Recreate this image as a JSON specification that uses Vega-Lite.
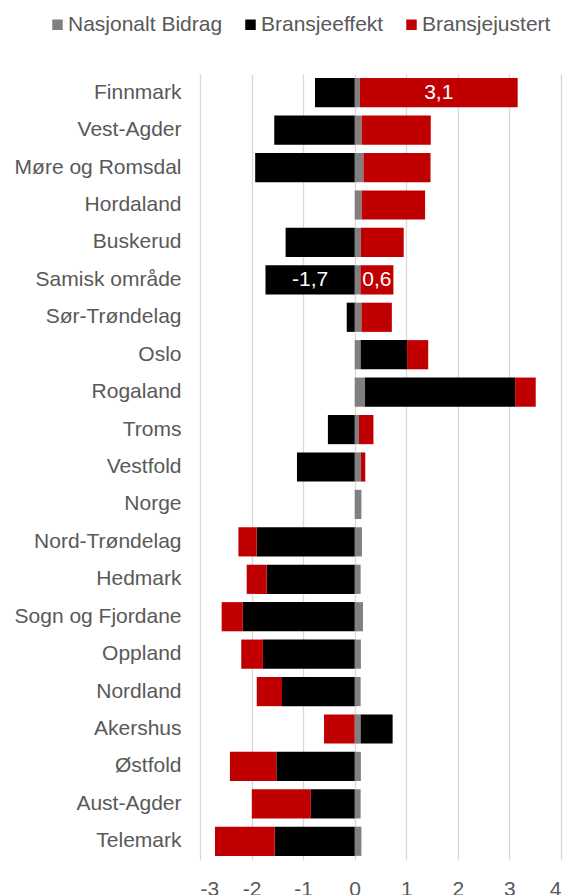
{
  "$schema": "https://vega.github.io/schema/vega-lite/v6.json",
  "autosize": "none",
  "width": 361,
  "height": 786,
  "padding": {"left": 200, "top": 74, "right": 8, "bottom": 35},
  "background": "white",
  "config": {
    "font": "Liberation Sans",
    "view": {"stroke": null},
    "axis": {"labelFont": "Liberation Sans", "labelColor": "#595959", "labelFontSize": 21}
  },
  "data": {
    "values": [
      {"region": "Finnmark", "series": "Nasjonalt Bidrag", "order": 1, "value": 0.10},
      {"region": "Finnmark", "series": "Bransjeeffekt", "order": 2, "value": -0.77},
      {"region": "Finnmark", "series": "Bransjejustert", "order": 3, "value": 3.06, "label": "3,1"},
      {"region": "Vest-Agder", "series": "Nasjonalt Bidrag", "order": 1, "value": 0.135},
      {"region": "Vest-Agder", "series": "Bransjeeffekt", "order": 2, "value": -1.56},
      {"region": "Vest-Agder", "series": "Bransjejustert", "order": 3, "value": 1.34},
      {"region": "Møre og Romsdal", "series": "Nasjonalt Bidrag", "order": 1, "value": 0.17},
      {"region": "Møre og Romsdal", "series": "Bransjeeffekt", "order": 2, "value": -1.93},
      {"region": "Møre og Romsdal", "series": "Bransjejustert", "order": 3, "value": 1.30},
      {"region": "Hordaland", "series": "Nasjonalt Bidrag", "order": 1, "value": 0.135},
      {"region": "Hordaland", "series": "Bransjeeffekt", "order": 2, "value": 0},
      {"region": "Hordaland", "series": "Bransjejustert", "order": 3, "value": 1.23},
      {"region": "Buskerud", "series": "Nasjonalt Bidrag", "order": 1, "value": 0.12},
      {"region": "Buskerud", "series": "Bransjeeffekt", "order": 2, "value": -1.34},
      {"region": "Buskerud", "series": "Bransjejustert", "order": 3, "value": 0.83},
      {"region": "Samisk område", "series": "Nasjonalt Bidrag", "order": 1, "value": 0.11},
      {"region": "Samisk område", "series": "Bransjeeffekt", "order": 2, "value": -1.73, "label": "-1,7"},
      {"region": "Samisk område", "series": "Bransjejustert", "order": 3, "value": 0.64, "label": "0,6"},
      {"region": "Sør-Trøndelag", "series": "Nasjonalt Bidrag", "order": 1, "value": 0.13},
      {"region": "Sør-Trøndelag", "series": "Bransjeeffekt", "order": 2, "value": -0.155},
      {"region": "Sør-Trøndelag", "series": "Bransjejustert", "order": 3, "value": 0.59},
      {"region": "Oslo", "series": "Nasjonalt Bidrag", "order": 1, "value": 0.115},
      {"region": "Oslo", "series": "Bransjeeffekt", "order": 2, "value": 0.90},
      {"region": "Oslo", "series": "Bransjejustert", "order": 3, "value": 0.41},
      {"region": "Rogaland", "series": "Nasjonalt Bidrag", "order": 1, "value": 0.20},
      {"region": "Rogaland", "series": "Bransjeeffekt", "order": 2, "value": 2.91},
      {"region": "Rogaland", "series": "Bransjejustert", "order": 3, "value": 0.40},
      {"region": "Troms", "series": "Nasjonalt Bidrag", "order": 1, "value": 0.083},
      {"region": "Troms", "series": "Bransjeeffekt", "order": 2, "value": -0.52},
      {"region": "Troms", "series": "Bransjejustert", "order": 3, "value": 0.28},
      {"region": "Vestfold", "series": "Nasjonalt Bidrag", "order": 1, "value": 0.12},
      {"region": "Vestfold", "series": "Bransjeeffekt", "order": 2, "value": -1.12},
      {"region": "Vestfold", "series": "Bransjejustert", "order": 3, "value": 0.085},
      {"region": "Norge", "series": "Nasjonalt Bidrag", "order": 1, "value": 0.13},
      {"region": "Norge", "series": "Bransjeeffekt", "order": 2, "value": 0},
      {"region": "Norge", "series": "Bransjejustert", "order": 3, "value": 0},
      {"region": "Nord-Trøndelag", "series": "Nasjonalt Bidrag", "order": 1, "value": 0.14},
      {"region": "Nord-Trøndelag", "series": "Bransjeeffekt", "order": 2, "value": -1.90},
      {"region": "Nord-Trøndelag", "series": "Bransjejustert", "order": 3, "value": -0.355},
      {"region": "Hedmark", "series": "Nasjonalt Bidrag", "order": 1, "value": 0.115},
      {"region": "Hedmark", "series": "Bransjeeffekt", "order": 2, "value": -1.705},
      {"region": "Hedmark", "series": "Bransjejustert", "order": 3, "value": -0.39},
      {"region": "Sogn og Fjordane", "series": "Nasjonalt Bidrag", "order": 1, "value": 0.16},
      {"region": "Sogn og Fjordane", "series": "Bransjeeffekt", "order": 2, "value": -2.17},
      {"region": "Sogn og Fjordane", "series": "Bransjejustert", "order": 3, "value": -0.41},
      {"region": "Oppland", "series": "Nasjonalt Bidrag", "order": 1, "value": 0.12},
      {"region": "Oppland", "series": "Bransjeeffekt", "order": 2, "value": -1.78},
      {"region": "Oppland", "series": "Bransjejustert", "order": 3, "value": -0.42},
      {"region": "Nordland", "series": "Nasjonalt Bidrag", "order": 1, "value": 0.115},
      {"region": "Nordland", "series": "Bransjeeffekt", "order": 2, "value": -1.41},
      {"region": "Nordland", "series": "Bransjejustert", "order": 3, "value": -0.49},
      {"region": "Akershus", "series": "Nasjonalt Bidrag", "order": 1, "value": 0.115},
      {"region": "Akershus", "series": "Bransjeeffekt", "order": 2, "value": 0.62},
      {"region": "Akershus", "series": "Bransjejustert", "order": 3, "value": -0.595},
      {"region": "Østfold", "series": "Nasjonalt Bidrag", "order": 1, "value": 0.12},
      {"region": "Østfold", "series": "Bransjeeffekt", "order": 2, "value": -1.52},
      {"region": "Østfold", "series": "Bransjejustert", "order": 3, "value": -0.90},
      {"region": "Aust-Agder", "series": "Nasjonalt Bidrag", "order": 1, "value": 0.115},
      {"region": "Aust-Agder", "series": "Bransjeeffekt", "order": 2, "value": -0.85},
      {"region": "Aust-Agder", "series": "Bransjejustert", "order": 3, "value": -1.145},
      {"region": "Telemark", "series": "Nasjonalt Bidrag", "order": 1, "value": 0.13},
      {"region": "Telemark", "series": "Bransjeeffekt", "order": 2, "value": -1.55},
      {"region": "Telemark", "series": "Bransjejustert", "order": 3, "value": -1.16}
    ]
  },
  "transform": [
    {"stack": "value", "groupby": ["region"], "sort": [{"field": "order", "order": "ascending"}], "as": ["v0", "v1"]}
  ],
  "encoding": {
    "y": {
      "field": "region",
      "type": "nominal",
      "sort": null,
      "title": null,
      "scale": {"paddingInner": 0.22, "paddingOuter": 0.11},
      "axis": {"domain": false, "ticks": false, "labelPadding": 19, "labelLimit": 300}
    }
  },
  "layer": [
    {
      "mark": {"type": "bar"},
      "encoding": {
        "x": {
          "field": "v0",
          "type": "quantitative",
          "title": null,
          "scale": {"domain": [-3, 4], "nice": false, "zero": false},
          "axis": {"values": [-3, -2, -1, 0, 1, 2, 3, 4], "labelExpr": "'' + datum.value", "labelOverlap": false, "labelBound": false, "domain": false, "ticks": false, "labelPadding": 18, "gridColor": "#d9d9d9", "gridWidth": 1.3, "gridOpacity": 1}
        },
        "x2": {"field": "v1"},
        "color": {
          "field": "series",
          "type": "nominal",
          "title": null,
          "scale": {"domain": ["Nasjonalt Bidrag", "Bransjeeffekt", "Bransjejustert"], "range": ["#808080", "#000000", "#c00000"]},
          "legend": {
            "orient": "none",
            "legendX": -153,
            "legendY": -60,
            "padding": 0,
            "direction": "horizontal",
            "symbolType": "square",
            "symbolSize": 110,
            "symbolStrokeWidth": 0,
            "symbolOpacity": 1,
            "labelFont": "Liberation Sans",
            "labelFontSize": 21,
            "labelColor": "#595959",
            "labelOffset": 0,
            "columnPadding": 17,
            "labelLimit": 300
          }
        }
      }
    },
    {
      "transform": [
        {"filter": "isValid(datum.label)"},
        {"calculate": "(datum.v0 + datum.v1) / 2", "as": "mid"}
      ],
      "mark": {"type": "text", "color": "white", "fontSize": 21, "font": "Liberation Sans", "align": "center", "baseline": "middle"},
      "encoding": {
        "x": {"field": "mid", "type": "quantitative"},
        "text": {"field": "label"}
      }
    }
  ]
}
